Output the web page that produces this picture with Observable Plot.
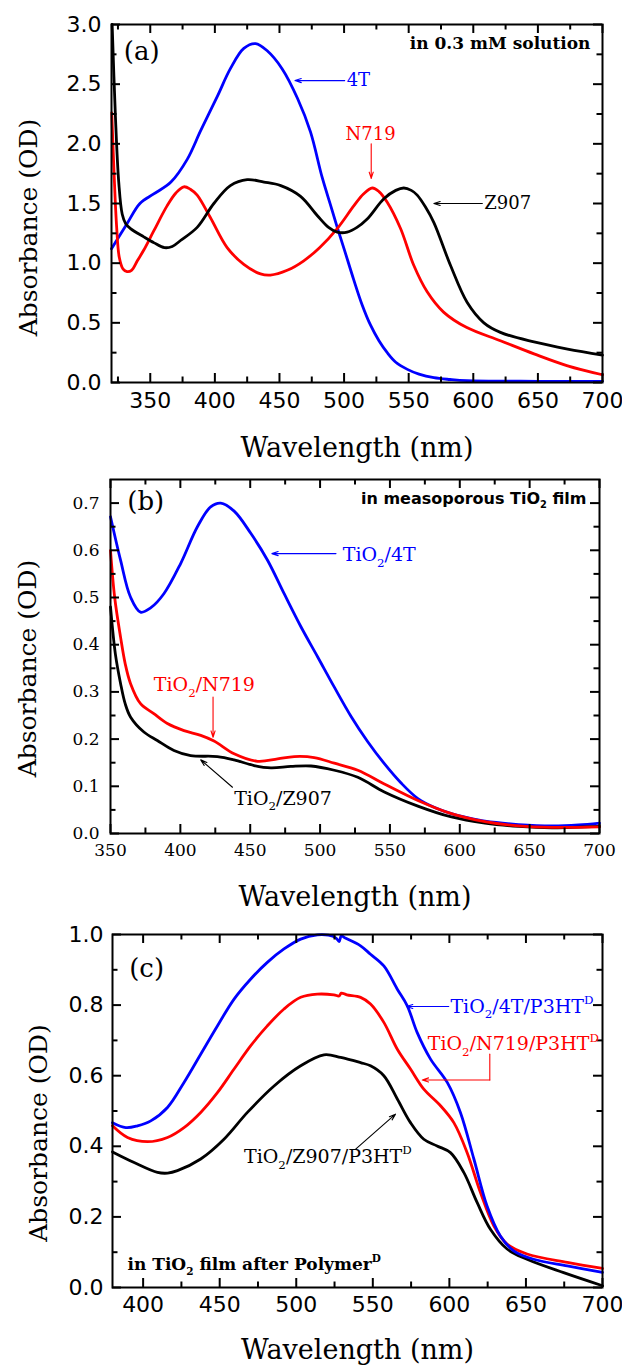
<!DOCTYPE html>
<html><head><meta charset="utf-8">
<script src="https://cdn.jsdelivr.net/npm/d3@7"></script>
<script src="https://cdn.jsdelivr.net/npm/@observablehq/plot@0.6"></script>
<style>
body{margin:0;background:#fff;width:622px;}
#chart div{line-height:0}
svg{display:block}
</style></head><body><div id="chart"></div>
<script>
// ---------- Panel (a): in 0.3 mM solution ----------
const A_4T = [[320,1.12],[332,1.33],[342,1.50],[352.7,1.58],[366,1.68],[378.6,1.87],[389,2.11],[402,2.40],[412,2.63],[422.4,2.80],[431.5,2.84],[440.5,2.78],[452,2.63],[464,2.38],[474,2.10],[483,1.72],[490,1.47],[495,1.29],[500,1.12],[507.5,0.86],[514,0.65],[520.5,0.48],[527,0.35],[533.4,0.25],[540,0.17],[549,0.11],[558,0.07],[569.5,0.04],[582,0.025],[595,0.015],[650,0.01],[700,0.01]];
const A_N719 = [[320.2,2.26],[322,1.75],[324,1.3],[326,1.05],[329,0.95],[332,0.93],[335.5,0.94],[340,1.02],[345,1.11],[352.7,1.27],[363,1.48],[370,1.59],[376,1.64],[381,1.62],[386.3,1.57],[396.6,1.38],[409.5,1.13],[422.4,0.99],[435.3,0.91],[443,0.90],[456,0.94],[468.8,1.02],[481,1.13],[494.7,1.29],[507.5,1.48],[515,1.58],[521.8,1.63],[527,1.60],[533.4,1.51],[543.7,1.29],[554,0.98],[564.3,0.76],[577,0.59],[595,0.46],[621,0.35],[647,0.24],[673,0.14],[700,0.065]];
const A_Z907 = [[320.5,3.0],[323,2.24],[325.6,1.68],[328.3,1.41],[331,1.33],[334.7,1.29],[345,1.22],[353,1.17],[361,1.13],[367,1.14],[373.4,1.19],[386.3,1.30],[399.2,1.50],[412,1.65],[425,1.70],[438,1.68],[451,1.65],[466.3,1.56],[479.2,1.40],[488,1.30],[494.7,1.26],[502.4,1.26],[510,1.30],[517.9,1.37],[530.8,1.54],[540,1.61],[546.2,1.63],[552,1.61],[556.6,1.57],[563,1.47],[569.5,1.34],[582.4,0.98],[595.3,0.67],[608.2,0.50],[621,0.42],[647,0.34],[673,0.28],[700,0.23]];
const A_xMajor = [350,400,450,500,550,600,650,700];
const A_xMinor = [325,375,425,475,525,575,625,675];
const A_yMajor = [0,0.5,1,1.5,2,2.5,3];
const A_yMinor = [0.25,0.75,1.25,1.75,2.25,2.75];

// ---------- Panel (b): in mesoporous TiO2 film ----------
const B_4T = [[350,0.671],[357.2,0.579],[364.3,0.501],[371.5,0.469],[378.7,0.478],[388.2,0.508],[400.2,0.572],[412.2,0.650],[421.7,0.692],[428.9,0.700],[438.5,0.683],[450.4,0.636],[462.4,0.579],[474.3,0.508],[486.3,0.438],[498.3,0.374],[510.2,0.310],[522.2,0.248],[534,0.195],[546,0.148],[558,0.107],[570,0.074],[582,0.055],[594,0.042],[606,0.033],[618,0.026],[642,0.019],[666,0.016],[685,0.018],[700,0.022]];
const B_N719 = [[350,0.60],[353,0.50],[357.2,0.416],[360.5,0.36],[364.3,0.318],[371.5,0.275],[381,0.254],[390.7,0.233],[402.6,0.218],[414.6,0.208],[424.1,0.196],[438.5,0.169],[455.2,0.153],[469.6,0.158],[481.5,0.163],[495.8,0.161],[510.2,0.149],[527,0.134],[546,0.105],[570,0.070],[594,0.042],[618,0.025],[642,0.016],[666,0.013],[700,0.014]];
const B_Z907 = [[350,0.48],[353.5,0.38],[357.2,0.318],[360.5,0.275],[364.3,0.247],[373.9,0.215],[383.5,0.197],[395.4,0.176],[407.4,0.165],[426.5,0.163],[438.5,0.156],[452.8,0.144],[464.8,0.139],[479.1,0.142],[493.5,0.143],[510.2,0.134],[527,0.119],[546,0.088],[570,0.058],[594,0.035],[618,0.022],[642,0.015],[666,0.012],[700,0.015]];
const B_xMajor = [350,400,450,500,550,600,650,700];
const B_xMinor = [375,425,475,525,575,625,675];
const B_yMajor = [0,0.1,0.2,0.3,0.4,0.5,0.6,0.7];
const B_yMinor = [0.05,0.15,0.25,0.35,0.45,0.55,0.65];

// ---------- Panel (c): in TiO2 film after polymer ----------
const C_4T = [[380,0.467],[388.7,0.453],[396.3,0.458],[405,0.472],[415.9,0.510],[426.7,0.581],[437.6,0.661],[448.5,0.741],[459.4,0.817],[470.3,0.874],[481.1,0.921],[492,0.959],[502.9,0.987],[513.8,0.999],[521,0.998],[526,0.99],[528,0.980],[529.4,0.996],[532,0.99],[542,0.968],[548.5,0.944],[557.2,0.911],[566,0.845],[572.5,0.798],[579,0.722],[587.7,0.647],[598.6,0.581],[607.2,0.496],[616,0.364],[624.6,0.231],[633.3,0.146],[642,0.104],[655,0.080],[677,0.061],[700,0.043]];
const C_N719 = [[380,0.458],[389.8,0.425],[402.9,0.413],[415.9,0.425],[426.7,0.453],[437.6,0.496],[448.5,0.552],[459.4,0.619],[470.3,0.685],[481.1,0.741],[492,0.789],[502.9,0.822],[513.8,0.831],[524.6,0.829],[528,0.826],[529.4,0.834],[533,0.829],[542,0.822],[548.5,0.803],[557.2,0.751],[566,0.675],[574.6,0.619],[583.3,0.562],[594.2,0.515],[602.9,0.467],[611.6,0.382],[620.3,0.269],[629,0.175],[637.7,0.123],[650.7,0.095],[677,0.071],[700,0.054]];
const C_Z907 = [[380,0.384],[394.1,0.354],[409.4,0.326],[416,0.324],[422.4,0.331],[437.6,0.364],[452.8,0.420],[468.1,0.496],[485.5,0.571],[502.9,0.628],[518.1,0.659],[529,0.652],[542,0.637],[548.5,0.628],[557.2,0.600],[566,0.534],[574.6,0.467],[583.3,0.420],[592,0.401],[600.7,0.382],[609.4,0.326],[618.1,0.241],[626.8,0.165],[637.7,0.109],[650.7,0.080],[674.6,0.042],[700,0.005]];
const C_xMajor = [400,450,500,550,600,650,700];
const C_xMinor = [425,475,525,575,625,675];
const C_yMajor = [0,0.2,0.4,0.6,0.8,1.0];
const C_yMinor = [0.1,0.3,0.5,0.7,0.9];

// ---------- Annotations ----------
const annA = {tag:{x:329.5,y:2.77,t:"(a)"}, note:{x:690.7,y:2.84,t:"in 0.3 mM solution"},
  l4T:{x:502,y:2.53,t:"4T"}, a4T:{x1:500.5,y1:2.53,x2:462,y2:2.53},
  lN719:{x:520.5,y:2.08,t:"N719"}, aN719:{x1:521,y1:2.0,x2:521,y2:1.71},
  lZ907:{x:608.5,y:1.50,t:"Z907"}, aZ907:{x1:607,y1:1.5,x2:569.5,y2:1.5}};
const annB = {tag:{x:362,y:0.703,t:"(b)"}, note:{x:690.7,y:0.71,t:"in measoporous TiO₂ film"},
  l4T:{x:516.2,y:0.590,t:"TiO₂/4T"}, a4T:{x1:511.4,y1:0.593,x2:465.5,y2:0.593},
  lN719:{x:381,y:0.314,t:"TiO₂/N719"}, aN719:{x1:423.4,y1:0.289,x2:423.4,y2:0.204},
  lZ907:{x:438.5,y:0.074,t:"TiO₂/Z907"}, aZ907:{x1:437.3,y1:0.098,x2:414.6,y2:0.156}};
const annC = {tag:{x:390.9,y:0.902,t:"(c)"}, note:{x:389.8,y:0.066,t:"in TiO₂ film after Polymerᴰ"},
  l4T:{x:600.7,y:0.796,t:"TiO₂/4T/P3HTᴰ"}, a4T:{x1:599.6,y1:0.796,x2:572,y2:0.796},
  lN719:{x:585.9,y:0.689,t:"TiO₂/N719/P3HTᴰ"}, eN719:[[626.4,0.661],[626.4,0.588]], aN719:{x1:626.4,y1:0.588,x2:582.3,y2:0.588},
  lZ907:{x:465.9,y:0.37,t:"TiO₂/Z907/P3HTᴰ"}, aZ907:{x1:538.8,y1:0.392,x2:564.8,y2:0.491}};

const BLUE = "#0000ff", RED = "#ff0000", BLACK = "#000000";
const SERIF = "DejaVu Serif", SANS = "DejaVu Sans";

// inward ticks: rules spanning the frame, inset so only `len` px remain at the given edge
function allTicks(dims, xMaj, xMin, yMaj, yMin) {
  const W = dims.width - dims.marginLeft - dims.marginRight;
  const H = dims.height - dims.marginTop - dims.marginBottom;
  const st = {stroke: BLACK, strokeWidth: 2};
  const out = [];
  for (const [vals, len] of [[xMaj, 9], [xMin, 5.5]]) {
    out.push(Plot.ruleX(vals, {x: d => d, insetTop: H - len, ...st}));
    out.push(Plot.ruleX(vals, {x: d => d, insetBottom: H - len, ...st}));
  }
  for (const [vals, len] of [[yMaj, 9], [yMin, 5.5]]) {
    out.push(Plot.ruleY(vals, {y: d => d, insetRight: W - len, ...st}));
    out.push(Plot.ruleY(vals, {y: d => d, insetLeft: W - len, ...st}));
  }
  return out;
}
function curve(data, color) {
  return Plot.line(data, {x: d => d[0], y: d => d[1], stroke: color, strokeWidth: 2.8, curve: "catmull-rom"});
}
function label(o, color, opts = {}) {
  return Plot.text([o], {x: "x", y: "y", text: "t", fill: color, textAnchor: "start", lineAnchor: "middle",
    fontFamily: SERIF, fontSize: 19, ...opts});
}
function arrow(o, color) {
  return Plot.arrow([o], {x1: "x1", y1: "y1", x2: "x2", y2: "y2", stroke: color, strokeWidth: 1.1, headLength: 9, headAngle: 36});
}
function titles(xdy, ydx, ydy) {
  return [
    Plot.text(["Wavelength (nm)"], {text: d => d, frameAnchor: "bottom", dy: xdy, textAnchor: "middle", lineAnchor: "middle", fontFamily: SERIF, fontSize: 27, fill: BLACK}),
    Plot.text(["Absorbance (OD)"], {text: d => d, frameAnchor: "left", rotate: -90, dx: ydx, dy: ydy, textAnchor: "middle", lineAnchor: "middle", fontFamily: SERIF, fontSize: 25, fill: BLACK})
  ];
}
const style = {background: "white", overflow: "visible", color: "black", fontFamily: SANS};

const dimsA = {width: 622, height: 460, marginTop: 24, marginRight: 20, marginBottom: 78, marginLeft: 111};
const plotA = Plot.plot({
  ...dimsA, x: {domain: [320, 700]}, y: {domain: [0, 3]}, style,
  marks: [
    curve(A_4T, BLUE), curve(A_N719, RED), curve(A_Z907, BLACK),
    Plot.frame({stroke: BLACK, strokeWidth: 2}),
    ...allTicks(dimsA, A_xMajor, A_xMinor, A_yMajor, A_yMinor),
    Plot.axisX(A_xMajor, {tickSize: 0, tickPadding: 10, fontSize: 22, fontFamily: SANS, label: null, tickFormat: d3.format("d"), fill: BLACK}),
    Plot.axisY(A_yMajor, {tickSize: 0, tickPadding: 10, fontSize: 22, fontFamily: SANS, label: null, tickFormat: d3.format(".1f"), fill: BLACK}),
    ...titles(66, -83, 24),
    label(annA.tag, BLACK, {fontSize: 26}),
    label(annA.note, BLACK, {textAnchor: "end", fontWeight: "bold", fontSize: 17}),
    label(annA.l4T, BLUE, {fontSize: 18}), arrow(annA.a4T, BLUE),
    label(annA.lN719, RED, {fontSize: 18, textAnchor: "middle"}), arrow(annA.aN719, RED),
    label(annA.lZ907, BLACK, {fontSize: 18}), arrow(annA.aZ907, BLACK)
  ]
});

const dimsB = {width: 622, height: 440, marginTop: 19, marginRight: 23, marginBottom: 67, marginLeft: 110};
const plotB = Plot.plot({
  ...dimsB, x: {domain: [350, 700]}, y: {domain: [0, 0.75]}, style,
  marks: [
    curve(B_4T, BLUE), curve(B_Z907, BLACK), curve(B_N719, RED),
    Plot.frame({stroke: BLACK, strokeWidth: 2}),
    ...allTicks(dimsB, B_xMajor, B_xMinor, B_yMajor, B_yMinor),
    Plot.axisX(B_xMajor, {tickSize: 0, tickPadding: 10, fontSize: 17, fontFamily: SERIF, label: null, tickFormat: d3.format("d"), fill: BLACK}),
    Plot.axisY(B_yMajor, {tickSize: 0, tickPadding: 11, fontSize: 17, fontFamily: SERIF, label: null, tickFormat: d3.format(".1f"), fill: BLACK}),
    ...titles(64, -83, 12),
    label(annB.tag, BLACK, {fontSize: 26}),
    label(annB.note, BLACK, {textAnchor: "end", fontWeight: "bold", fontSize: 16, fontFamily: SANS}),
    label(annB.l4T, BLUE), arrow(annB.a4T, BLUE),
    label(annB.lN719, RED), arrow(annB.aN719, RED),
    label(annB.lZ907, BLACK), arrow(annB.aZ907, BLACK)
  ]
});

const dimsC = {width: 622, height: 467, marginTop: 34, marginRight: 20, marginBottom: 80, marginLeft: 112};
const plotC = Plot.plot({
  ...dimsC, x: {domain: [380, 700]}, y: {domain: [0, 1]}, style,
  marks: [
    curve(C_Z907, BLACK), curve(C_N719, RED), curve(C_4T, BLUE),
    Plot.frame({stroke: BLACK, strokeWidth: 2}),
    ...allTicks(dimsC, C_xMajor, C_xMinor, C_yMajor, C_yMinor),
    Plot.axisX(C_xMajor, {tickSize: 0, tickPadding: 9, fontSize: 22, fontFamily: SANS, label: null, tickFormat: d3.format("d"), fill: BLACK}),
    Plot.axisY(C_yMajor, {tickSize: 0, tickPadding: 9, fontSize: 22, fontFamily: SANS, label: null, tickFormat: d3.format(".1f"), fill: BLACK}),
    ...titles(63, -74, 22),
    label(annC.tag, BLACK, {fontSize: 26}),
    label(annC.note, BLACK, {fontWeight: "bold", fontSize: 17}),
    label(annC.l4T, BLUE), arrow(annC.a4T, BLUE),
    label(annC.lN719, RED),
    Plot.line(annC.eN719, {x: d => d[0], y: d => d[1], stroke: RED, strokeWidth: 1.1}), arrow(annC.aN719, RED),
    label(annC.lZ907, BLACK), arrow(annC.aZ907, BLACK)
  ]
});

// Render sub/superscripts (₂ -> subscript 2, ᴰ -> superscript D) as real tspans
function richify(svg) {
  const NS = "http://www.w3.org/2000/svg";
  svg.querySelectorAll("text").forEach(t => {
    const s = t.textContent;
    if (!/[₂ᴰ]/.test(s) || t.querySelector("tspan")) return;
    t.textContent = "";
    let buf = "", pendingDy = 0;
    const fs = parseFloat(getComputedStyle(t).fontSize) || 19;
    const flush = () => {
      if (!buf) return;
      const ts = document.createElementNS(NS, "tspan");
      ts.textContent = buf;
      if (pendingDy) ts.setAttribute("dy", pendingDy);
      pendingDy = 0; buf = "";
      t.appendChild(ts);
    };
    for (const ch of s) {
      if (ch === "₂" || ch === "ᴰ") {
        flush();
        const sub = ch === "₂";
        const shift = sub ? fs * 0.3 : -fs * 0.45;
        const ts = document.createElementNS(NS, "tspan");
        ts.textContent = sub ? "2" : "D";
        ts.setAttribute("dy", shift + pendingDy);
        ts.setAttribute("font-size", (fs * 0.62).toFixed(1));
        t.appendChild(ts);
        pendingDy = -shift;
      } else buf += ch;
    }
    flush();
  });
}

const root = document.getElementById("chart");
for (const p of [plotA, plotB, plotC]) {
  const d = document.createElement("div");
  d.appendChild(p);
  root.appendChild(d);
  richify(p);
}
</script></body></html>
